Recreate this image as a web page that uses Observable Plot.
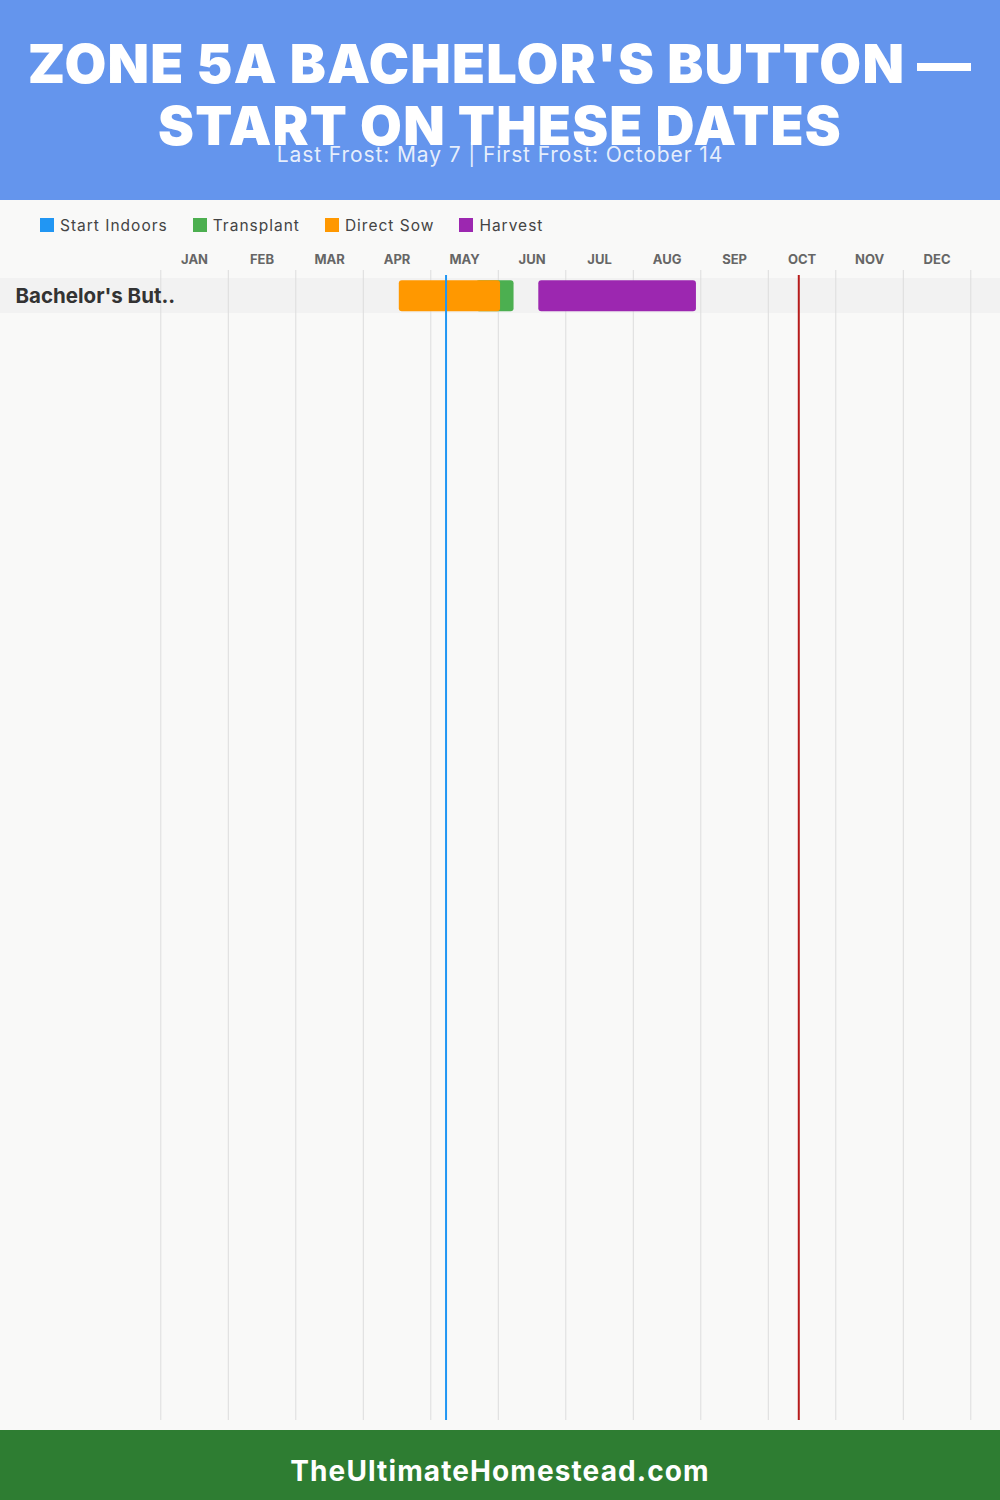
<!DOCTYPE html>
<html>
<head>
<meta charset="utf-8">
<script src="https://cdn.jsdelivr.net/npm/d3@7"></script>
<script src="https://cdn.jsdelivr.net/npm/@observablehq/plot@0.6"></script>
<style>
  html, body { margin: 0; padding: 0; }
  body { width: 1000px; height: 1500px; background: #f9f9f8; position: relative; overflow: hidden; font-family: Inter, "Noto Sans", sans-serif; }
  #header { position: absolute; left: 0; top: 0; width: 1000px; height: 200px; background: #6495ED; }
  #title { position: absolute; left: 0; top: 33px; width: 1000px; text-align: center; color: #fff; font-weight: 900; font-size: 54px; line-height: 62px; letter-spacing: 1.2px; }
  #subtitle { position: absolute; left: 0; top: 142px; width: 1000px; text-align: center; color: rgba(255,255,255,0.85); font-size: 21px; line-height: 26px; letter-spacing: 0.9px; }
  #legend { position: absolute; left: 40px; top: 214px; height: 22px; display: flex; align-items: center; font-size: 15.5px; color: #444; letter-spacing: 1px; }
  .item { display: flex; align-items: center; margin-right: 25px; }
  .sw { width: 14px; height: 14px; margin-right: 6px; }
  #chart { position: absolute; left: 0; top: 200px; }
  #footer { position: absolute; left: 0; top: 1430px; width: 1000px; height: 70px; background: #2E7D32; color: #fff; font-weight: 700; font-size: 28px; line-height: 82px; text-align: center; letter-spacing: 1.1px; overflow: hidden; }
</style>
</head>
<body>
<div id="header">
  <div id="title"></div>
  <div id="subtitle"></div>
</div>
<div id="legend"></div>
<div id="chart"></div>
<div id="footer">TheUltimateHomestead.com</div>
<script>
// ---- data ----
const titleText = "Zone 5A Bachelor's Button — Start on These Dates";
const lastFrost = "05-07";
const firstFrost = "10-14";
const subtitleText = "Last Frost: May 7 | First Frost: October 14";
const months = ["JAN","FEB","MAR","APR","MAY","JUN","JUL","AUG","SEP","OCT","NOV","DEC"];
const crops = ["Bachelor's Button"];
const phases = ["Start Indoors", "Transplant", "Direct Sow", "Harvest"];
const phaseColors = ["#2196F3", "#4CAF50", "#FF9800", "#9C27B0"];
// per phase for the single crop (null = no window)
const phaseStarts = [null, "05-21", "04-16", "06-18"];
const phaseEnds   = [null, "06-07", "06-01", "08-29"];

// ---- helpers ----
const daysIn = [31,28,31,30,31,30,31,31,30,31,30,31];
function pos(md) { const [m, d] = md.split("-").map(Number); return (m - 1) + d / daysIn[m - 1]; }
function shortName(s) { return s.length > 14 ? s.slice(0, 14) + ".." : s; }

document.getElementById("title").textContent = titleText.toUpperCase();
document.getElementById("subtitle").textContent = subtitleText;

const legend = document.getElementById("legend");
phases.forEach((p, i) => {
  const it = document.createElement("div"); it.className = "item";
  const sw = document.createElement("div"); sw.className = "sw"; sw.style.background = phaseColors[i];
  const t = document.createElement("span"); t.textContent = p;
  it.appendChild(sw); it.appendChild(t); legend.appendChild(it);
});

const bars = [];
crops.forEach(c => phases.forEach((p, i) => {
  if (phaseStarts[i]) bars.push({crop: c, phase: p, x1: pos(phaseStarts[i]), x2: pos(phaseEnds[i])});
}));
const monthData = months.map((m, i) => ({m, mid: i + 0.5}));
const gridData = d3.range(0, 13);

const chart = Plot.plot({
  width: 1000,
  height: 1230,
  marginLeft: 0, marginRight: 0, marginTop: 70, marginBottom: 10,
  style: {background: "transparent", fontFamily: "Inter, 'Noto Sans', sans-serif", overflow: "visible"},
  x: {domain: [0, 12], range: [160.3, 970.3], axis: null},
  y: {domain: crops, range: [77.7, 112.7], padding: 0, axis: null},
  color: {domain: phases, range: phaseColors},
  marks: [
    Plot.cell(crops, {y: d => d, fill: "#f2f2f2", inset: 0}),
    Plot.ruleX(gridData, {x: d => d, stroke: "#dddddd", strokeWidth: 1}),
    Plot.text(monthData, {x: "mid", text: "m", frameAnchor: "top", lineAnchor: "middle", dy: -11, fontSize: 13, fontWeight: 700, fill: "#666", letterSpacing: 0.8}),
    Plot.barX(bars, {x1: "x1", x2: "x2", y: "crop", fill: "phase", rx: 3, insetTop: 2.3, insetBottom: 1.7}),
    Plot.ruleX([pos(lastFrost)], {x: d => d, stroke: "#2196F3", strokeWidth: 2, insetTop: 5}),
    Plot.ruleX([pos(firstFrost)], {x: d => d, stroke: "#B71C1C", strokeWidth: 2, insetTop: 5}),
    Plot.text(crops, {y: d => d, text: d => shortName(d), frameAnchor: "left", dx: 15, textAnchor: "start", fontSize: 20.5, fontWeight: 700, fill: "#333", letterSpacing: 1.2})
  ]
});
document.getElementById("chart").appendChild(chart);
</script>
</body>
</html>
